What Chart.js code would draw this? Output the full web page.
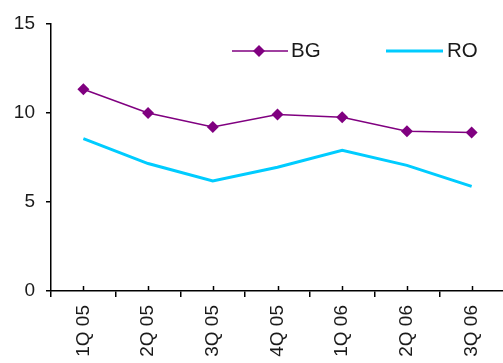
<!DOCTYPE html>
<html>
<head>
<meta charset="utf-8">
<script src="https://cdn.jsdelivr.net/npm/chart.js@4/dist/chart.umd.min.js"></script>
<style>
  html, body { margin: 0; padding: 0; background: #fff; overflow: hidden; }
  #wrap { width: 510px; height: 363px; position: relative; }
</style>
</head>
<body>
<div id="wrap"><canvas id="c"></canvas></div>
<script>
// Quarterly figures for two series
const quarters = ['1Q 05', '2Q 05', '3Q 05', '4Q 05', '1Q 06', '2Q 06', '3Q 06'];
const bgValues = [11.33, 10.0, 9.21, 9.91, 9.76, 8.97, 8.9];
const roValues = [8.56, 7.16, 6.18, 6.95, 7.9, 7.06, 5.88];
const yTicks = [0, 5, 10, 15];

const BG_COLOR = '#800080';
const RO_COLOR = '#00CCFF';
const TEXT_COLOR = '#1a1a1a';
const FONT = '"Liberation Sans", Arial, sans-serif';

// Short upward tick marks at every category centre on the x axis
const centreTicks = {
  id: 'centreTicks',
  afterDraw(chart) {
    const x = chart.scales.x;
    const ctx = chart.ctx;
    const base = chart.chartArea.bottom;
    ctx.save();
    ctx.strokeStyle = '#000';
    ctx.lineWidth = 1.5;
    quarters.forEach((q, i) => {
      const px = Math.round(x.getPixelForValue(i)) + 0.5;
      ctx.beginPath();
      ctx.moveTo(px, base);
      ctx.lineTo(px, base - 5);
      ctx.stroke();
    });
    ctx.restore();
  }
};

// Legend drawn inside the plot area, top right
const insideLegend = {
  id: 'insideLegend',
  afterDraw(chart) {
    const ctx = chart.ctx;
    const y = 51;
    ctx.save();
    ctx.font = '20.5px ' + FONT;
    ctx.fillStyle = TEXT_COLOR;
    ctx.textBaseline = 'middle';

    // BG entry: line with diamond marker
    ctx.strokeStyle = BG_COLOR;
    ctx.lineWidth = 1.5;
    ctx.beginPath();
    ctx.moveTo(232, y);
    ctx.lineTo(288, y);
    ctx.stroke();
    ctx.fillStyle = BG_COLOR;
    ctx.beginPath();
    ctx.moveTo(259, y - 6);
    ctx.lineTo(265, y);
    ctx.lineTo(259, y + 6);
    ctx.lineTo(253, y);
    ctx.closePath();
    ctx.fill();
    ctx.fillStyle = TEXT_COLOR;
    ctx.fillText('BG', 291, y);

    // RO entry: plain thick line
    ctx.strokeStyle = RO_COLOR;
    ctx.lineWidth = 3;
    ctx.beginPath();
    ctx.moveTo(386, y);
    ctx.lineTo(443, y);
    ctx.stroke();
    ctx.fillText('RO', 447, y);
    ctx.restore();
  }
};

new Chart(document.getElementById('c'), {
  type: 'line',
  data: {
    labels: quarters,
    datasets: [
      {
        label: 'BG',
        data: bgValues,
        borderColor: BG_COLOR,
        backgroundColor: BG_COLOR,
        borderWidth: 1.5,
        pointStyle: 'rectRot',
        pointRadius: 6,
        pointBorderWidth: 0,
        pointBackgroundColor: BG_COLOR,
        tension: 0
      },
      {
        label: 'RO',
        data: roValues,
        borderColor: RO_COLOR,
        backgroundColor: RO_COLOR,
        borderWidth: 3,
        pointRadius: 0,
        tension: 0
      }
    ]
  },
  options: {
    responsive: true,
    maintainAspectRatio: false,
    animation: false,
    layout: { padding: { top: 24, right: 2, left: 0, bottom: 0 } },
    plugins: {
      legend: { display: false },
      tooltip: { enabled: false }
    },
    scales: {
      x: {
        offset: true,
        afterFit(scale) { scale.height = 72; },
        border: { display: true, color: '#000', width: 1.5 },
        grid: {
          display: true,
          offset: true,
          drawOnChartArea: false,
          drawTicks: true,
          tickLength: 6,
          color: '#000',
          lineWidth: 1.5
        },
        ticks: {
          minRotation: 90,
          maxRotation: 90,
          padding: 8,
          color: TEXT_COLOR,
          font: { family: FONT, size: 19 }
        }
      },
      y: {
        min: 0,
        max: 15,
        afterFit(scale) { scale.width = 51; },
        afterBuildTicks(scale) { scale.ticks = yTicks.map(v => ({ value: v })); },
        border: { display: true, color: '#000', width: 1.5 },
        grid: {
          display: true,
          drawOnChartArea: false,
          drawTicks: true,
          tickLength: 5,
          color: '#000',
          lineWidth: 1.5
        },
        ticks: {
          padding: 11,
          color: TEXT_COLOR,
          font: { family: FONT, size: 19 }
        }
      }
    }
  },
  plugins: [centreTicks, insideLegend]
});
</script>
</body>
</html>
